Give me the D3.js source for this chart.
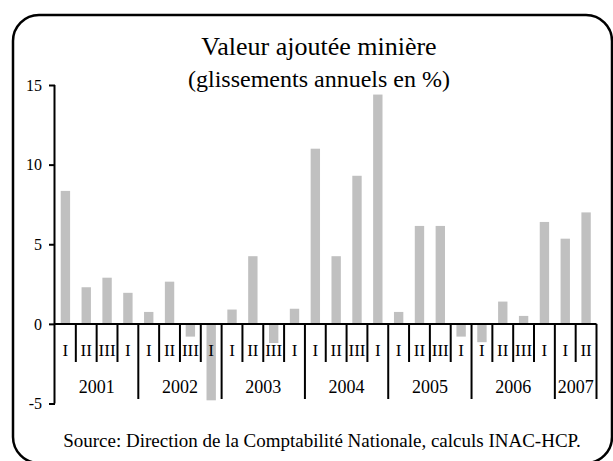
<!DOCTYPE html>
<html>
<head>
<meta charset="utf-8">
<script src="https://cdn.jsdelivr.net/npm/d3@7"></script>
<style>
  html, body { margin: 0; padding: 0; background: #fff; }
  svg { display: block; }
  text { font-family: "Liberation Serif", "Times New Roman", serif; fill: #000; }
</style>
</head>
<body>
<svg id="chart" width="613" height="461"></svg>
<script>
// values (annual growth, %)
const years = ["2001", "2002", "2003", "2004", "2005", "2006", "2007"]
const quartersPerYear = [4, 4, 4, 4, 4, 4, 2]
const quarterNames = ["I", "II", "III", "I"]
const values = [8.35, 2.3, 2.9, 1.95, 0.75, 2.65, -0.8, -4.8, 0.9, 4.25, -1.2, 0.95,
                11.0, 4.25, 9.3, 14.4, 0.75, 6.15, 6.15, -0.8, -1.15, 1.4, 0.5, 6.4,
                5.35, 7.0]
const yTicks = [-5, 0, 5, 10, 15]

// build one entry per quarter
const quarters = []
years.forEach((yr, yi) => {
    for (let q = 0; q < quartersPerYear[yi]; q++) {
        quarters.push({ key: yr + "-" + q, year: yr, label: quarterNames[q] })
    }
})
quarters.forEach((d, i) => d.value = values[i])

const svg = d3.select("#chart")

// rounded frame
svg.append("rect")
    .attr("x", 13).attr("y", 15)
    .attr("width", 599).attr("height", 448)
    .attr("rx", 26).attr("ry", 26)
    .attr("fill", "none")
    .attr("stroke", "#000")
    .attr("stroke-width", 2.5)

const left = 55, right = 596.5
const x = d3.scaleBand()
    .domain(quarters.map(d => d.key))
    .range([left, right])
    .padding(0)
const y = d3.scaleLinear()
    .domain([-5, 15])
    .range([403.5, 85])

// bars
const barW = x.bandwidth() * 0.45
svg.append("g")
    .selectAll("rect")
    .data(quarters)
    .join("rect")
    .attr("x", d => x(d.key) + (x.bandwidth() - barW) / 2)
    .attr("width", barW)
    .attr("y", d => y(Math.max(0, d.value)))
    .attr("height", d => Math.abs(y(d.value) - y(0)))
    .attr("fill", "#c0c0c0")

// y axis
const yAxis = svg.append("g")
    .attr("transform", `translate(${left},0)`)
    .attr("font-family", '"Liberation Serif", serif')
    .attr("font-size", 16)
    .call(d3.axisLeft(y).tickValues(yTicks).tickSize(6).tickPadding(7).tickFormat(d => String(d)))
yAxis.attr("font-family", '"Liberation Serif", serif').attr("font-size", 16)
yAxis.select(".domain").attr("stroke-width", 2).attr("d", `M-0.5,${y(15)}V${y(-5)}`)
yAxis.selectAll(".tick line").attr("stroke-width", 2)

// x axis line at zero
svg.append("line")
    .attr("x1", left).attr("x2", right)
    .attr("y1", y(0)).attr("y2", y(0))
    .attr("stroke", "#000").attr("stroke-width", 2)

// separators: short between quarters, long between years
const boundaries = []
let idx = 0
years.forEach((yr, yi) => {
    boundaries.push({ i: idx, long: true })
    for (let q = 1; q < quartersPerYear[yi]; q++) boundaries.push({ i: idx + q, long: false })
    idx += quartersPerYear[yi]
})
boundaries.push({ i: idx, long: true })
const bx = i => i < quarters.length ? x(quarters[i].key) : right

svg.append("g")
    .selectAll("line")
    .data(boundaries.filter(b => b.i > 0))
    .join("line")
    .attr("x1", b => bx(b.i)).attr("x2", b => bx(b.i))
    .attr("y1", y(0))
    .attr("y2", b => b.long ? 399 : 362)
    .attr("stroke", "#000")
    .attr("stroke-width", 2)

// quarter labels
svg.append("g")
    .selectAll("text")
    .data(quarters)
    .join("text")
    .attr("x", d => x(d.key) + x.bandwidth() / 2)
    .attr("y", 356)
    .attr("text-anchor", "middle")
    .attr("font-size", 17)
    .text(d => d.label)

// year labels
let start = 0
const yearPos = years.map((yr, yi) => {
    const s = start
    start += quartersPerYear[yi]
    return { year: yr, x0: bx(s), x1: bx(start) }
})
svg.append("g")
    .selectAll("text")
    .data(yearPos)
    .join("text")
    .attr("x", d => (d.x0 + d.x1) / 2)
    .attr("y", 392.5)
    .attr("text-anchor", "middle")
    .attr("font-size", 18)
    .text(d => d.year)

// titles
svg.append("text")
    .attr("x", 319).attr("y", 54.5)
    .attr("text-anchor", "middle")
    .attr("font-size", 26)
    .text("Valeur ajoutée minière")
svg.append("text")
    .attr("x", 319).attr("y", 87)
    .attr("text-anchor", "middle")
    .attr("font-size", 24)
    .text("(glissements annuels en %)")

// source
svg.append("text")
    .attr("x", 322).attr("y", 447)
    .attr("text-anchor", "middle")
    .attr("font-size", 19)
    .text("Source: Direction de la Comptabilité Nationale, calculs INAC-HCP.")
</script>
</body>
</html>
